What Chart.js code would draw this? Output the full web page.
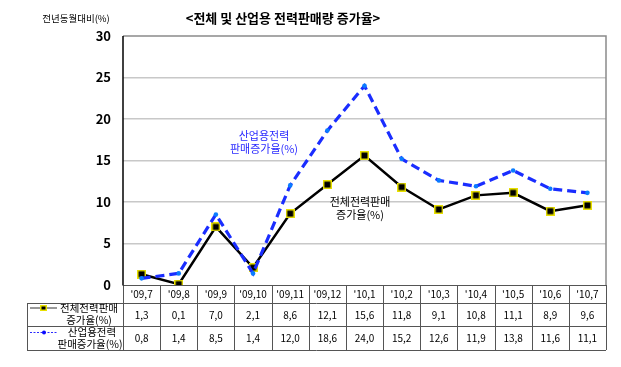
<!DOCTYPE html>
<html>
<head>
<meta charset="utf-8">
<script src="https://cdn.jsdelivr.net/npm/chart.js@4"></script>
<style>
  html, body { margin: 0; padding: 0; background: #fff; }
  canvas { display: block; }
</style>
</head>
<body>
<canvas id="c" width="621" height="367"></canvas>
<script>
const months = ["'09,7", "'09,8", "'09,9", "'09,10", "'09,11", "'09,12", "'10,1", "'10,2", "'10,3", "'10,4", "'10,5", "'10,6", "'10,7"];
const totalGrowth = [1.3, 0.1, 7.0, 2.1, 8.6, 12.1, 15.6, 11.8, 9.1, 10.8, 11.1, 8.9, 9.6];
const industrialGrowth = [0.8, 1.4, 8.5, 1.4, 12.0, 18.6, 24.0, 15.2, 12.6, 11.9, 13.8, 11.6, 11.1];
const yTicks = [0, 5, 10, 15, 20, 25, 30];

const FONT = "'Noto Sans CJK KR', 'Noto Sans', sans-serif";
const fmt = v => v.toFixed(1).replace('.', ',');

// little yellow-edged black square used for the total series
function squareMarker(size) {
    const c = document.createElement('canvas');
    c.width = c.height = size;
    const g = c.getContext('2d');
    g.fillStyle = '#e8e000';
    g.fillRect(0, 0, size, size);
    g.fillStyle = '#000';
    g.fillRect(1.5, 1.5, size - 3, size - 3);
    return c;
}

const textPlugin = {
    id: 'texts',
    afterDraw(chart) {
        const ctx = chart.ctx;
        const area = chart.chartArea;
        const x = chart.scales.x;
        ctx.save();

        // titles
        ctx.fillStyle = '#000';
        ctx.textBaseline = 'middle';
        ctx.textAlign = 'center';
        ctx.font = 'bold 13px ' + FONT;
        ctx.fillText('<전체 및 산업용 전력판매량 증가율>', 283, 18);
        ctx.font = '9.5px ' + FONT;
        ctx.fillText('전년동월대비(%)', 76, 18);

        // in-plot labels
        ctx.font = '11px ' + FONT;
        ctx.fillStyle = '#2a2aff';
        ctx.fillText('산업용전력', 264, 136);
        ctx.fillText('판매증가율(%)', 264, 149);
        ctx.fillStyle = '#000';
        ctx.fillText('전체전력판매', 360, 202);
        ctx.fillText('증가율(%)', 360, 215);

        // data table
        const top = area.bottom, r1 = 303, r2 = 326, bot = 350, tl = 27;
        const w = (area.right - area.left) / months.length;
        ctx.strokeStyle = '#555';
        ctx.lineWidth = 1;
        ctx.beginPath();
        ctx.moveTo(area.left, top + 0.5); ctx.lineTo(area.right, top + 0.5);
        ctx.moveTo(tl, r1 + 0.5); ctx.lineTo(area.right, r1 + 0.5);
        ctx.moveTo(tl, r2 + 0.5); ctx.lineTo(area.right, r2 + 0.5);
        ctx.moveTo(tl, bot + 0.5); ctx.lineTo(area.right, bot + 0.5);
        ctx.moveTo(tl + 0.5, r1); ctx.lineTo(tl + 0.5, bot);
        for (let i = 0; i <= months.length; i++) {
            const px = Math.round(area.left + i * w) + 0.5;
            ctx.moveTo(px, top); ctx.lineTo(px, bot);
        }
        ctx.stroke();

        ctx.fillStyle = '#000';
        ctx.font = '10px ' + FONT;
        months.forEach((m, i) => {
            const px = x.getPixelForValue(i);
            ctx.fillText(m, px, 294);
            ctx.fillText(fmt(totalGrowth[i]), px, 315);
            ctx.fillText(fmt(industrialGrowth[i]), px, 338);
        });

        // legend keys in the first column
        ctx.font = '10.5px ' + FONT;
        ctx.fillText('전체전력판매', 89, 308);
        ctx.fillText('증가율(%)', 89, 320);
        ctx.fillText('산업용전력', 92, 332);
        ctx.fillText('판매증가율(%)', 90, 344);

        ctx.strokeStyle = '#777';
        ctx.lineWidth = 1.5;
        ctx.beginPath(); ctx.moveTo(30, 308); ctx.lineTo(57, 308); ctx.stroke();
        ctx.fillStyle = '#e8e000'; ctx.fillRect(40, 305, 7, 6);
        ctx.fillStyle = '#000'; ctx.fillRect(41.5, 306.5, 4, 3);

        ctx.strokeStyle = '#2a2aff';
        ctx.lineWidth = 1;
        ctx.setLineDash([2, 1.5]);
        ctx.beginPath(); ctx.moveTo(30, 332.5); ctx.lineTo(58, 332.5); ctx.stroke();
        ctx.setLineDash([]);
        ctx.fillStyle = '#0a0aff';
        ctx.beginPath(); ctx.arc(44, 332.5, 2, 0, Math.PI * 2); ctx.fill();

        // plot frame
        ctx.strokeStyle = '#8a8a8a';
        ctx.lineWidth = 1.5;
        ctx.beginPath();
        ctx.moveTo(area.left, area.top); ctx.lineTo(area.right, area.top); ctx.lineTo(area.right, area.bottom);
        ctx.stroke();
        ctx.strokeStyle = '#000';
        ctx.beginPath();
        ctx.moveTo(area.left, area.top); ctx.lineTo(area.left, area.bottom + 0.5);
        ctx.stroke();
        ctx.restore();
    }
};

new Chart(document.getElementById('c'), {
    type: 'line',
    data: {
        labels: months,
        datasets: [
            {
                label: '산업용전력 판매증가율(%)',
                data: industrialGrowth,
                borderColor: '#1a2dff',
                borderWidth: 3.2,
                borderDash: [9, 5],
                pointStyle: 'circle',
                pointRadius: 2.3,
                pointBorderWidth: 0,
                pointBackgroundColor: '#0a7cff',
                tension: 0
            },
            {
                label: '전체전력판매 증가율(%)',
                data: totalGrowth,
                borderColor: '#000',
                borderWidth: 2.5,
                pointStyle: squareMarker(9),
                tension: 0
            }
        ]
    },
    options: {
        responsive: false,
        animation: false,
        events: [],
        layout: { padding: { left: 80, right: 15, top: 36, bottom: 82 } },
        plugins: { legend: { display: false }, tooltip: { enabled: false } },
        scales: {
            x: {
                display: false,
                offset: true,
                grid: { offset: true }
            },
            y: {
                min: 0,
                max: 30,
                afterFit: s => { s.width = 43; },
                afterBuildTicks: s => { s.ticks = yTicks.map(v => ({ value: v })); },
                border: { display: false },
                grid: {
                    color: ctx => (ctx.tick.value === 0 || ctx.tick.value === 30) ? 'rgba(0,0,0,0)' : '#c8c8c8',
                    lineWidth: 1.5,
                    drawTicks: false
                },
                ticks: {
                    color: '#000',
                    padding: 12,
                    font: { family: FONT, size: 13, weight: 'bold' }
                }
            }
        }
    },
    plugins: [textPlugin]
});
</script>
</body>
</html>
